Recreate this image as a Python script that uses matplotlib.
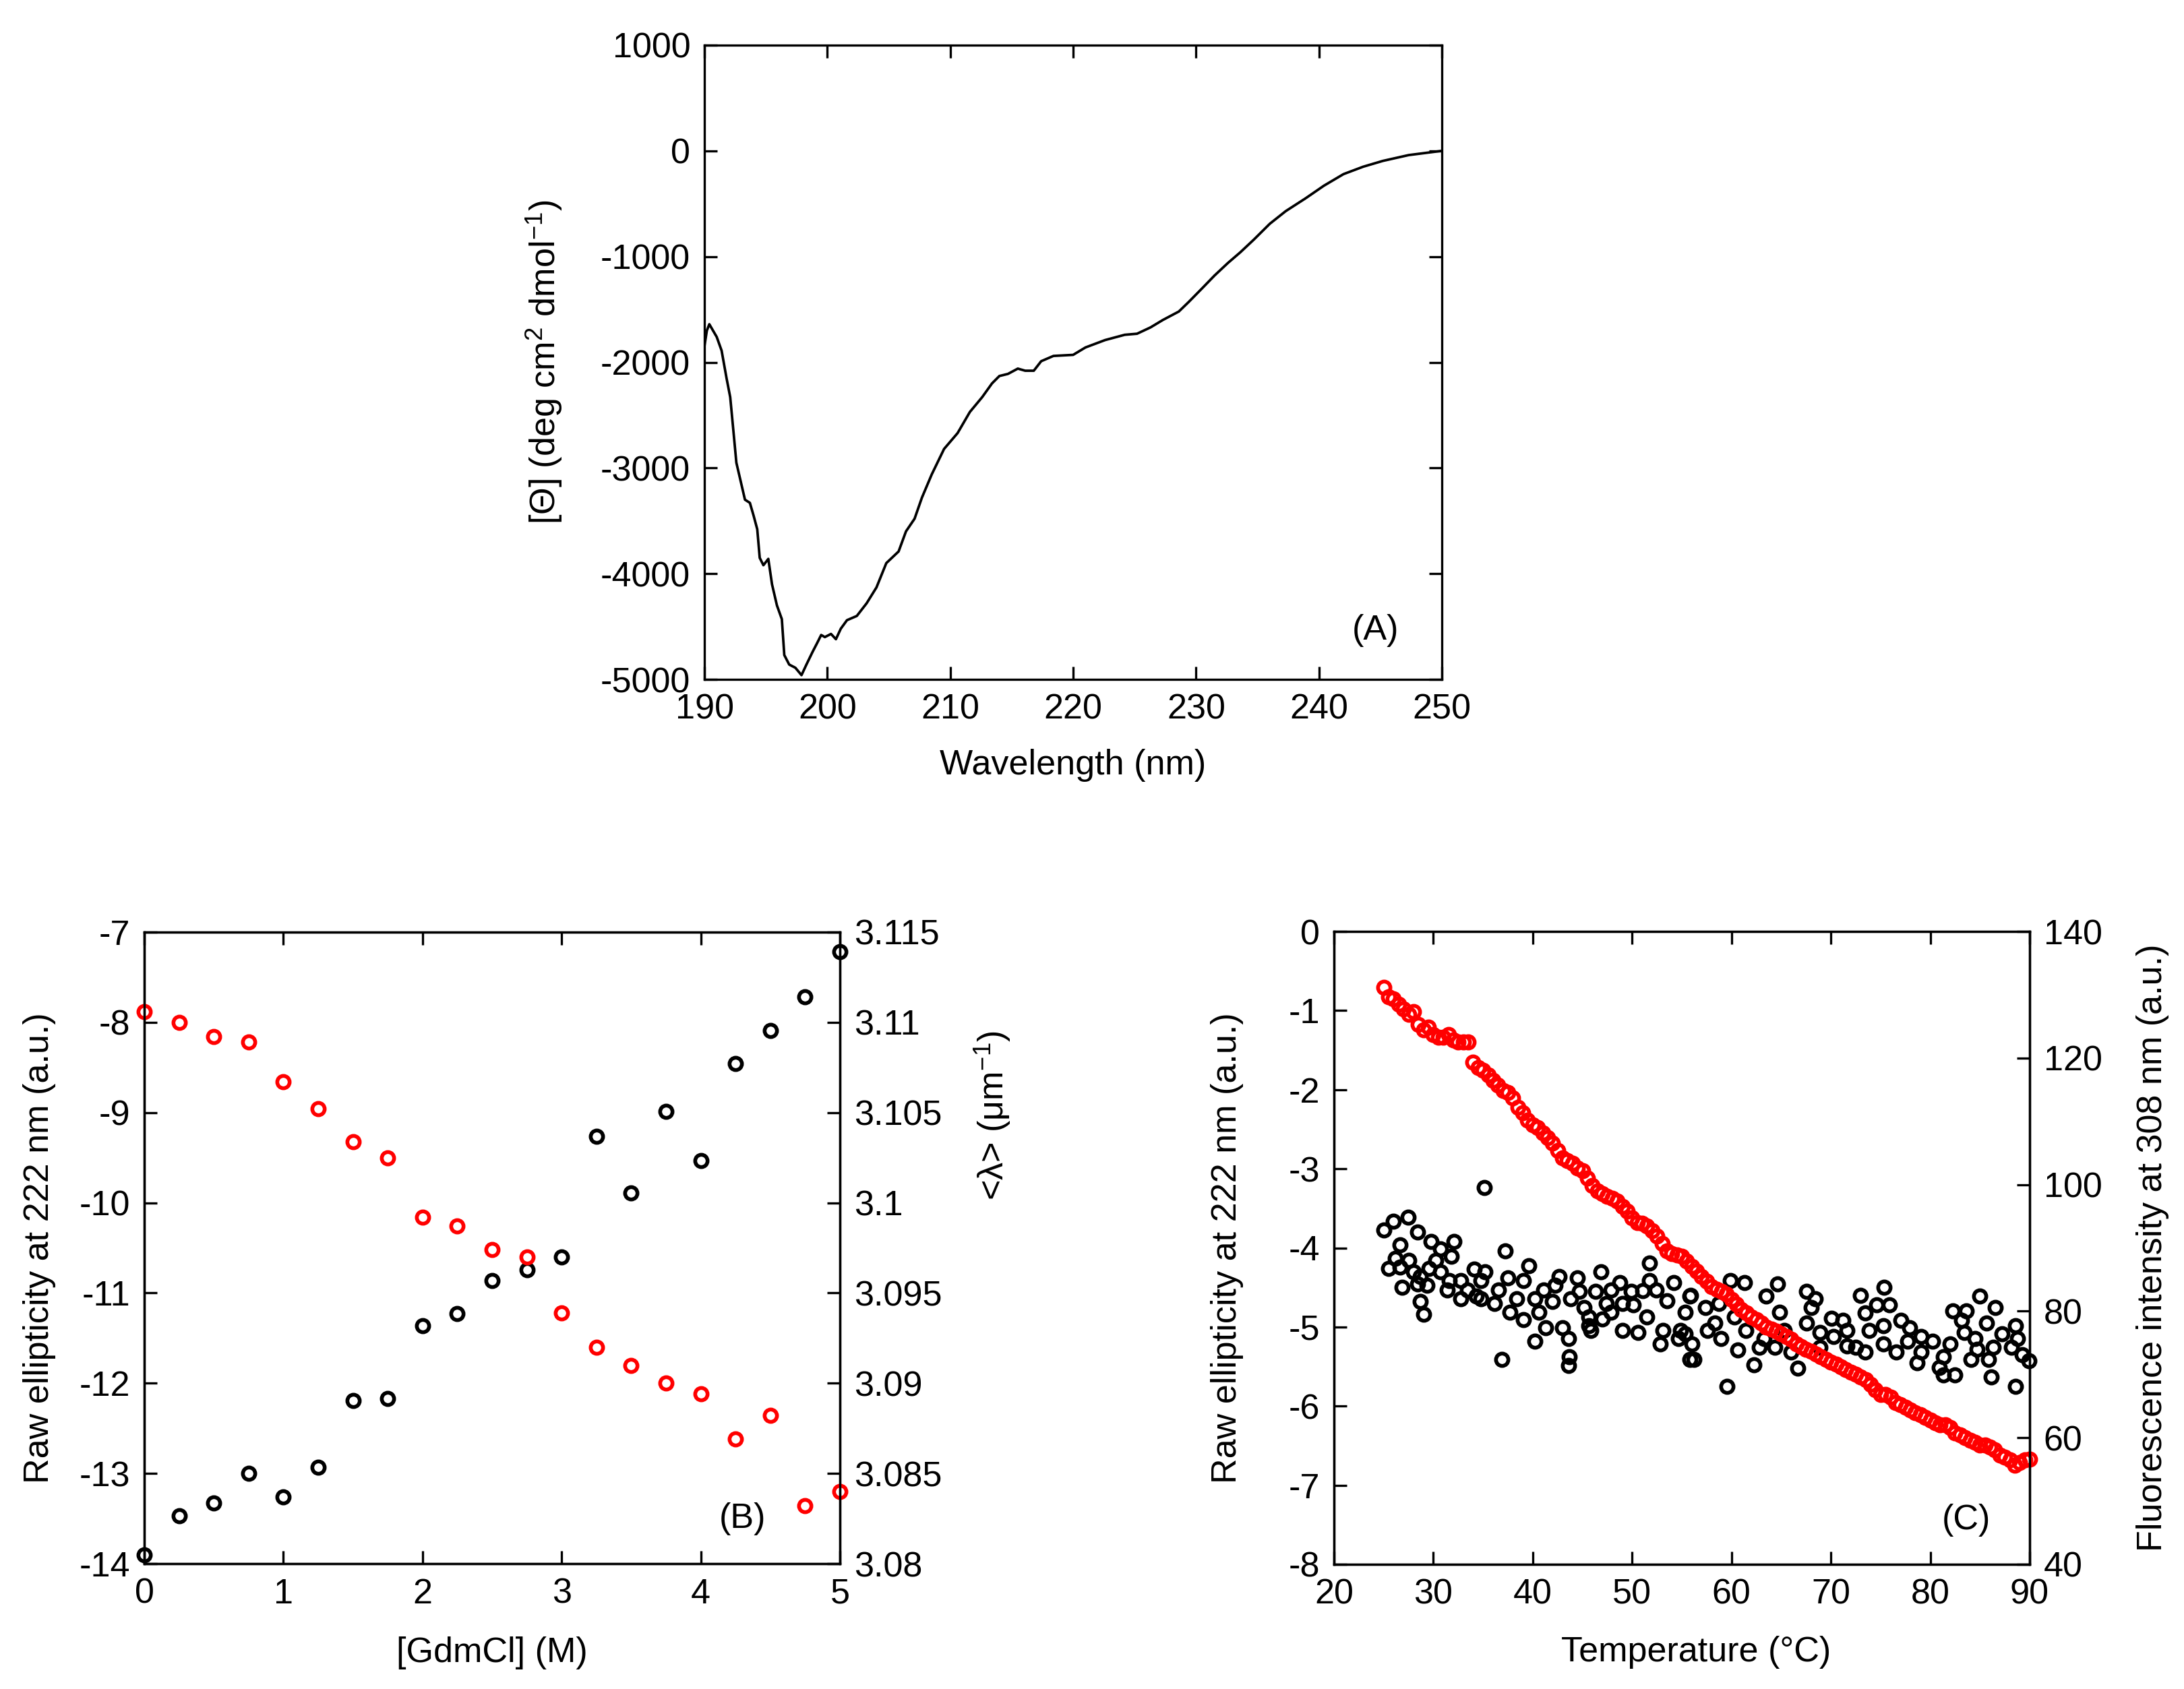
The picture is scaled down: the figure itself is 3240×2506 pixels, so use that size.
import numpy as np
import matplotlib
matplotlib.use("Agg")
import matplotlib.pyplot as plt

plt.rcParams['font.family'] = ['Liberation Sans', 'DejaVu Sans']
plt.rcParams['font.size'] = 12.5
plt.rcParams['axes.unicode_minus'] = False
plt.rcParams['mathtext.default'] = 'regular'

# (A) far-UV CD spectrum
wl = [190.0, 190.2, 190.4, 190.7, 191.0, 191.4, 191.8, 192.1, 192.4, 192.6,
      192.9, 193.3, 193.7, 194.0, 194.3, 194.5, 194.8, 195.2, 195.5, 195.9,
      196.3, 196.5, 196.9, 197.4, 197.9, 198.3, 198.8, 199.2, 199.5, 199.8,
      200.3, 200.7, 201.1, 201.6, 202.4, 203.2, 204.0, 204.8, 205.8, 206.4,
      207.1, 207.7, 208.5, 209.5, 210.6, 211.6, 212.6, 213.4, 214.0, 214.7,
      215.5, 216.1, 216.8, 217.4, 218.4, 220.0, 221.0, 222.6, 224.2, 225.2,
      226.3, 227.3, 228.6, 229.4, 230.5, 231.5, 232.6, 233.6, 234.7, 236.0,
      237.3, 238.9, 240.4, 242.0, 243.6, 245.2, 247.3, 250.0]
theta = [-1850, -1700, -1640, -1700, -1760, -1890, -2150, -2330, -2700, -2950,
         -3100, -3300, -3330, -3450, -3580, -3850, -3920, -3860, -4100, -4300,
         -4430, -4770, -4860, -4890, -4960, -4860, -4740, -4650, -4580, -4600,
         -4570, -4620, -4520, -4440, -4400, -4280, -4130, -3900, -3790, -3600,
         -3480, -3280, -3060, -2820, -2670, -2470, -2330, -2200, -2130, -2110,
         -2060, -2080, -2080, -1990, -1940, -1930, -1860, -1790, -1740, -1730,
         -1670, -1600, -1520, -1430, -1300, -1180, -1060, -960, -840, -690,
         -570, -450, -330, -220, -150, -95, -40, 0]

# (B) GdmCl denaturation
gdm = [0, 0.25, 0.5, 0.75, 1.0, 1.25, 1.5, 1.75, 2.0, 2.25, 2.5,
       2.75, 3.0, 3.25, 3.5, 3.75, 4.0, 4.25, 4.5, 4.75, 5.0]
ell_gdm = [-13.90, -13.47, -13.33, -13.00, -13.26, -12.93, -12.19, -12.17,
           -11.36, -11.23, -10.86, -10.74, -10.60, -9.26, -9.89, -8.99,
           -9.53, -8.46, -8.09, -7.72, -7.22]
lam_gdm = [3.1106, 3.1100, 3.1092, 3.1089, 3.1067, 3.1052, 3.1034, 3.1025,
           3.0992, 3.0987, 3.0974, 3.0970, 3.0939, 3.0920, 3.0910, 3.0900,
           3.0894, 3.0869, 3.0882, 3.0832, 3.0840]
lam_ticks = [3.08, 3.085, 3.09, 3.095, 3.1, 3.105, 3.11, 3.115]
lam_labels = ['3.08', '3.085', '3.09', '3.095', '3.1', '3.105', '3.11', '3.115']

# (C) thermal denaturation: ellipticity (black)
temp_ell = [35.11, 27.49, 25.95, 25.04, 26.63, 28.43, 29.79, 32.05, 30.70, 31.83,
            37.21, 25.49, 26.63, 27.53, 29.57, 28.66, 26.85, 28.43, 29.34, 31.37,
            28.66, 29.00, 34.09, 35.22, 32.73, 32.73, 34.77, 36.58, 37.48, 39.06,
            39.63, 36.12, 37.71, 39.06, 40.19, 40.19, 42.00, 42.68, 41.32, 43.02,
            43.59, 44.49, 43.70, 43.59, 36.92, 46.87, 43.81, 45.17, 45.85, 46.30,
            47.88, 48.79, 49.01, 50.14, 49.01, 50.59, 51.73, 51.73, 51.05, 52.41,
            53.54, 54.21, 52.86, 53.08, 51.50, 46.98, 45.62, 47.88, 55.35, 55.80,
            54.89, 55.80, 54.67, 33.41, 31.60, 30.70, 30.24, 34.77, 41.10, 38.38,
            42.23, 44.72, 40.65, 47.43, 49.92, 45.62, 26.17, 27.98, 34.31,
            59.87, 61.34, 64.62, 67.56, 68.46, 68.01, 72.98, 75.36, 84.97, 86.55,
            88.59, 88.81, 89.95, 88.59, 86.10, 82.48, 81.35, 78.64, 80.90, 85.87,
            84.74, 83.39, 85.65, 83.61, 82.26, 83.16, 80.22, 79.09, 77.96, 77.06,
            75.92, 74.57, 73.44, 76.60, 75.25, 73.89, 72.53, 73.44, 71.63, 70.27,
            70.05, 71.18, 68.91, 66.65, 65.97, 65.30, 64.84, 63.49, 63.26, 64.39,
            62.24, 60.66, 59.53, 58.96, 58.29, 57.61, 56.25, 56.02, 55.91, 57.38,
            58.74, 60.32, 61.45, 67.56, 88.14, 87.23, 89.27, 79.09, 82.03, 84.52,
            77.73, 86.33, 81.35, 84.07, 75.25, 71.63, 68.91, 62.81, 55.35]
ell_temp = [-3.24, -3.61, -3.66, -3.77, -3.96, -3.80, -3.92, -3.92, -4.01, -4.11,
            -4.04, -4.26, -4.24, -4.16, -4.26, -4.36, -4.50, -4.46, -4.47, -4.53,
            -4.68, -4.84, -4.27, -4.30, -4.41, -4.64, -4.64, -4.53, -4.38, -4.41,
            -4.23, -4.70, -4.81, -4.91, -5.18, -4.64, -4.68, -4.36, -5.01, -5.01,
            -5.15, -4.38, -5.38, -5.49, -5.41, -4.30, -4.64, -4.75, -5.04, -4.55,
            -4.53, -4.44, -4.70, -4.72, -5.04, -5.07, -4.19, -4.41, -4.54, -4.53,
            -4.67, -4.44, -5.21, -5.04, -4.87, -4.90, -4.87, -4.81, -4.81, -4.61,
            -5.04, -5.41, -5.15, -4.53, -4.41, -4.30, -4.16, -4.41, -4.53, -4.64,
            -4.47, -4.55, -4.81, -4.70, -4.55, -4.98, -4.13, -4.30, -4.61,
            -4.41, -4.44, -4.46, -4.55, -4.64, -4.75, -4.60, -4.50, -4.61, -4.75,
            -4.98, -5.15, -5.43, -5.75, -5.63, -5.61, -5.61, -5.45, -5.51, -5.41,
            -5.28, -5.07, -4.95, -4.80, -4.80, -4.92, -5.18, -5.12, -5.01, -4.92,
            -4.72, -4.72, -4.82, -5.32, -5.21, -5.04, -5.26, -5.32, -5.24, -5.12,
            -4.89, -4.92, -5.26, -5.52, -5.32, -5.04, -4.81, -4.61, -5.15, -5.26,
            -5.48, -5.29, -5.75, -5.15, -4.95, -5.04, -5.41, -5.21, -4.60, -4.75,
            -4.70, -4.87, -5.04, -4.95, -5.26, -5.09, -5.35, -5.32, -5.21, -5.15,
            -5.18, -5.26, -5.38, -5.41, -4.98, -5.04, -5.07, -5.26, -5.09]

# (C) thermal denaturation: fluorescence (red)
temp_fl = [25.0, 25.5, 26.0, 26.5, 27.0, 27.5, 28.0, 28.5, 29.0, 29.5,
           30.0, 30.5, 31.0, 31.5, 32.0, 32.5, 33.0, 33.5, 34.0, 34.5,
           35.0, 35.5, 36.0, 36.5, 37.0, 37.5, 38.0, 38.5, 39.0, 39.5,
           40.0, 40.5, 41.0, 41.5, 42.0, 42.5, 43.0, 43.5, 44.0, 44.5,
           45.0, 45.5, 46.0, 46.5, 47.0, 47.5, 48.0, 48.5, 49.0, 49.5,
           50.0, 50.5, 51.0, 51.5, 52.0, 52.5, 53.0, 53.5, 54.0, 54.5,
           55.0, 55.5, 56.0, 56.5, 57.0, 57.5, 58.0, 58.5, 59.0, 59.5,
           60.0, 60.5, 61.0, 61.5, 62.0, 62.5, 63.0, 63.5, 64.0, 64.5,
           65.0, 65.5, 66.0, 66.5, 67.0, 67.5, 68.0, 68.5, 69.0, 69.5,
           70.0, 70.5, 71.0, 71.5, 72.0, 72.5, 73.0, 73.5, 74.0, 74.5,
           75.0, 75.5, 76.0, 76.5, 77.0, 77.5, 78.0, 78.5, 79.0, 79.5,
           80.0, 80.5, 81.0, 81.5, 82.0, 82.5, 83.0, 83.5, 84.0, 84.5,
           85.0, 85.5, 86.0, 86.5, 87.0, 87.5, 88.0, 88.5, 89.0, 89.5, 90.0]
fluor = [131.2, 129.7, 129.3, 128.5, 127.7, 126.9, 127.3, 125.3, 124.5, 124.9,
         123.7, 123.3, 123.3, 123.7, 122.9, 122.5, 122.5, 122.5, 119.3, 118.5,
         118.1, 117.3, 116.5, 115.7, 114.9, 114.5, 113.7, 112.2, 111.4, 110.2,
         109.4, 109.0, 108.2, 107.4, 106.6, 105.4, 104.2, 103.8, 103.4, 102.6,
         102.2, 101.0, 99.8, 99.0, 98.6, 98.2, 97.8, 97.4, 96.6, 95.8,
         94.7, 94.0, 93.9, 93.5, 92.7, 91.9, 90.7, 89.5, 89.1, 88.9,
         88.7, 87.9, 87.1, 86.3, 85.5, 84.7, 83.9, 83.5, 83.1, 82.7,
         81.9, 81.1, 80.3, 79.7, 79.1, 78.7, 78.1, 77.5, 77.2, 76.8,
         76.4, 76.0, 75.6, 74.8, 74.4, 74.0, 73.6, 73.2, 72.8, 72.4,
         72.0, 71.6, 71.2, 70.8, 70.4, 70.0, 69.6, 69.2, 68.4, 67.6,
         66.8, 66.8, 66.4, 65.6, 65.2, 64.8, 64.4, 64.0, 63.6, 63.2,
         62.8, 62.4, 62.0, 62.0, 61.6, 60.8, 60.4, 60.0, 59.6, 59.3,
         58.9, 58.9, 58.5, 58.1, 57.3, 56.9, 56.5, 55.7, 56.1, 56.5, 56.6]

W, H = 3240, 2506
fig = plt.figure(figsize=(W / 300, H / 300), dpi=300)

mk = dict(ls='none', marker='o', ms=4.4, mew=1.35, mfc='none')


def style(ax):
    for s in ax.spines.values():
        s.set_linewidth(0.8)
    ax.tick_params(direction='in', length=4.5, width=0.8, pad=5)


# ---- (A)
axA = fig.add_axes([1045 / W, 1 - 1008 / H, 1094 / W, 941 / H])
axA.plot(wl, theta, color='black', lw=0.9)
axA.set_xlim(190, 250)
axA.set_ylim(-5000, 1000)
axA.set_xticks(np.arange(190, 251, 10))
axA.set_yticks(np.arange(-5000, 1001, 1000))
style(axA)
axA.tick_params(top=True, right=True)
axA.text(0.5, -0.136, 'Wavelength (nm)', transform=axA.transAxes,
         ha='center', va='center')
axA.text(-0.218, 0.5, '[Θ] (deg cm$^2$ dmol$^{-1}$)', transform=axA.transAxes,
         rotation=90, ha='center', va='center')
axA.text(0.91, 0.077, '(A)', transform=axA.transAxes, ha='center', va='center')

# ---- (B)
axB = fig.add_axes([214 / W, 1 - 2320 / H, 1032 / W, 937 / H])
axB.plot(gdm, ell_gdm, color='black', clip_on=False, **mk)
axB.set_xlim(0, 5)
axB.set_ylim(-14, -7)
axB.set_xticks(range(0, 6))
axB.set_yticks(range(-14, -6))
style(axB)
axB.tick_params(top=True)
axB2 = axB.twinx()
axB2.plot(gdm, lam_gdm, color='red', clip_on=False, **mk)
axB2.set_ylim(3.08, 3.115)
axB2.set_yticks(lam_ticks)
axB2.set_yticklabels(lam_labels)
style(axB2)
axB.text(0.5, -0.141, '[GdmCl] (M)', transform=axB.transAxes,
         ha='center', va='center')
axB.text(-0.151, 0.5, 'Raw ellipticity at 222 nm (a.u.)', transform=axB.transAxes,
         rotation=90, ha='center', va='center')
axB.text(1.22, 0.71, '<λ> (μm$^{-1}$)', transform=axB.transAxes,
         rotation=90, ha='center', va='center')
axB.text(0.86, 0.071, '(B)', transform=axB.transAxes, ha='center', va='center')

# ---- (C)
axC = fig.add_axes([1979 / W, 1 - 2321 / H, 1032 / W, 939 / H])
axC.plot(temp_ell, ell_temp, color='black', clip_on=False, **mk)
axC.set_xlim(20, 90)
axC.set_ylim(-8, 0)
axC.set_xticks(range(20, 91, 10))
axC.set_yticks(range(-8, 1))
style(axC)
axC.tick_params(top=True)
axC2 = axC.twinx()
axC2.plot(temp_fl, fluor, color='red', clip_on=False, **mk)
axC2.set_ylim(40, 140)
axC2.set_yticks(range(40, 141, 20))
style(axC2)
axC.text(0.52, -0.139, 'Temperature (°C)', transform=axC.transAxes,
         ha='center', va='center')
axC.text(-0.154, 0.5, 'Raw ellipticity at 222 nm (a.u.)', transform=axC.transAxes,
         rotation=90, ha='center', va='center')
axC.text(1.177, 0.5, 'Fluorescence intensity at 308 nm (a.u.)',
         transform=axC.transAxes, rotation=90, ha='center', va='center')
axC.text(0.909, 0.07, '(C)', transform=axC.transAxes, ha='center', va='center')

fig.savefig('out.png', dpi=300)
